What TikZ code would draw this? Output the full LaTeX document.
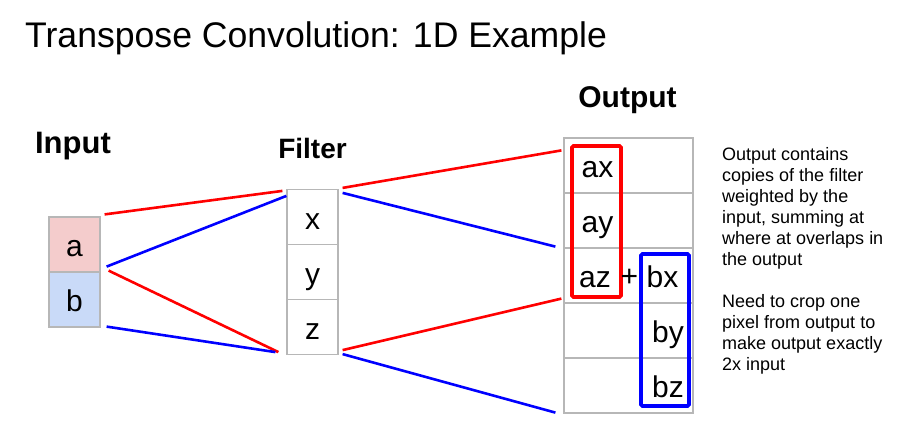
\documentclass[tikz,border=0pt]{standalone}
\usepackage{fontspec}
\setmainfont{Liberation Sans}
\usetikzlibrary{calc}
\definecolor{pinkA}{RGB}{244,204,204}
\definecolor{blueB}{RGB}{201,218,248}
\definecolor{gridc}{RGB}{183,183,183}
\definecolor{rd}{RGB}{255,0,0}
\definecolor{bl}{RGB}{0,0,255}
\begin{document}
\begin{tikzpicture}[x=1pt,y=-1pt,
  cell/.style={draw=gridc,line width=1.2pt,minimum width=51pt,minimum height=55pt,inner sep=0pt,
    text height=24pt,text depth=0pt,font=\fontsize{30}{30}\selectfont},
  ocell/.style={draw=gridc,line width=1.2pt,minimum width=129pt,minimum height=55pt,inner sep=0pt},
  lbl/.style={font=\fontsize{30}{30}\selectfont,inner sep=0pt,anchor=base},
  head/.style={font=\bfseries\fontsize{29}{29}\selectfont,inner sep=0pt,anchor=base},
  rline/.style={draw=rd,line width=2.6pt},
  bline/.style={draw=bl,line width=2.6pt},
  rbox/.style={draw=rd,line width=3.8pt,rounded corners=1.5pt},
  bbox/.style={draw=bl,line width=3.8pt,rounded corners=1.5pt}]
\useasboundingbox (0,0) rectangle (897,431);
% title
\node[anchor=base west,inner sep=0pt,font=\fontsize{35.6}{36}\selectfont] (title) at (25,47) {Transpose Convolution: 1D Example};
% headings
\node[head,font=\bfseries\fontsize{31}{31}\selectfont] (hin) at (73,153) {Input};
\node[head,font=\bfseries\fontsize{28}{28}\selectfont] (hfi) at (312.5,158) {Filter};
\node[head,font=\bfseries\fontsize{30}{30}\selectfont] (hout) at (627.5,107) {Output};
% input
\node[cell,fill=pinkA] (a) at (74.5,244.5) {a};
\node[cell,fill=blueB] (b) at (74.5,299.5) {b};
% filter
\node[cell,fill=white] (x) at (312.5,217) {x};
\node[cell,fill=white] (y) at (312.5,272) {y};
\node[cell,fill=white] (z) at (312.5,327) {z};
% output
\node[ocell] (o1) at (628.5,165.5) {};
\node[ocell] (o2) at (628.5,220.5) {};
\node[ocell] (o3) at (628.5,275.5) {};
\node[ocell] (o4) at (628.5,330.5) {};
\node[ocell] (o5) at (628.5,385.5) {};
% boxes
\draw[rbox] (572,146) rectangle (621,297);
\draw[bbox] (641,254) rectangle (689,406);
% output texts
\node[lbl] (ax) at (597.5,177) {ax};
\node[lbl] (ay) at (597.5,232) {ay};
\node[lbl] (az) at (595,287) {az};
\node[lbl] (plus) at (629.5,286) {+};
\node[lbl] (bx) at (662.5,287) {bx};
\node[lbl] (by) at (668,342) {by};
\node[lbl] (bz) at (668,397) {bz};
% connectors
\draw[rline] ([shift={(4,-2)}]a.north east) -- ([shift={(-4,2)}]x.north west);
\draw[bline] ([shift={(6,-6)}]a.south east) -- ([shift={(0,7)}]x.north west);
\draw[rline] ([shift={(8,-2)}]a.south east) -- ([shift={(-8,-3)}]z.south west);
\draw[bline] ([shift={(6,-1)}]b.south east) -- ([shift={(-11,-3)}]z.south west);
\draw[rline] ([shift={(4,-1)}]x.north east) -- ([shift={(-2,13)}]o1.north west);
\draw[bline] ([shift={(4,4)}]x.north east) -- ([shift={(-8,-2)}]o2.south west);
\draw[rline] ([shift={(4,-5)}]z.south east) -- ([shift={(-2,-5)}]o3.south west);
\draw[bline] ([shift={(4,-1)}]z.south east) -- ([shift={(-8,-1)}]o5.south west);
% note
\node[anchor=north west,align=left,inner sep=0pt,font=\fontsize{18}{21}\selectfont] (note) at (722,147)
{Output contains\\copies of the filter\\weighted by the\\input, summing at\\where at overlaps in\\the output\\[21pt]Need to crop one\\pixel from output to\\make output exactly\\2x input};
\end{tikzpicture}
\end{document}
